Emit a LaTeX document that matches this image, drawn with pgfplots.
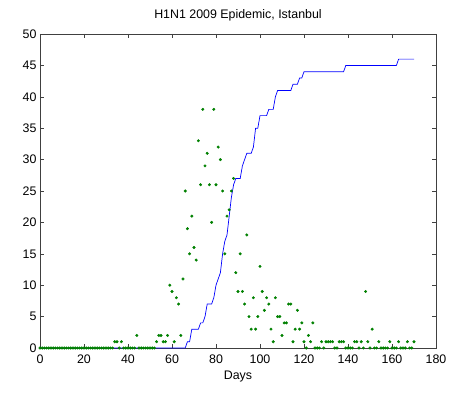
\documentclass[border=0pt]{standalone}
\usepackage{pgfplots}
\pgfplotsset{compat=1.18}
\usepackage{pgfplotstable}
\usepackage{fontspec}
\setmainfont{Liberation Sans}

\definecolor{mblue}{rgb}{0,0,1}
\definecolor{mgreen}{rgb}{0,0.5,0}

% daily counts (green dots)
\pgfplotstableread[row sep=\\]{
day n \\
0 0 \\ 1 0 \\ 2 0 \\ 3 0 \\ 4 0 \\ 5 0 \\ 6 0 \\ 7 0 \\ 8 0 \\ 9 0 \\
10 0 \\ 11 0 \\ 12 0 \\ 13 0 \\ 14 0 \\ 15 0 \\ 16 0 \\ 17 0 \\ 18 0 \\ 19 0 \\
20 0 \\ 21 0 \\ 22 0 \\ 23 0 \\ 24 0 \\ 25 0 \\ 26 0 \\ 27 0 \\ 28 0 \\ 29 0 \\
30 0 \\ 31 0 \\ 32 0 \\ 33 0 \\ 34 1 \\ 35 1 \\ 36 0 \\ 37 1 \\ 38 0 \\ 39 0 \\
40 0 \\ 41 0 \\ 42 0 \\ 43 0 \\ 44 2 \\ 45 0 \\ 46 0 \\ 47 0 \\ 48 0 \\ 49 0 \\
50 0 \\ 51 0 \\ 52 0 \\ 53 1 \\ 54 2 \\ 55 2 \\ 56 1 \\ 57 1 \\ 58 2 \\ 59 10 \\
60 9 \\ 61 1 \\ 62 8 \\ 63 7 \\ 64 2 \\ 65 11 \\ 66 25 \\ 67 19 \\ 68 15 \\ 69 21 \\
70 16 \\ 71 14 \\ 72 33 \\ 73 26 \\ 74 38 \\ 75 29 \\ 76 31 \\ 77 26 \\ 78 20 \\ 79 38 \\
80 26 \\ 81 32 \\ 82 30 \\ 83 25 \\ 84 15 \\ 85 21 \\ 86 22 \\ 87 25 \\ 88 27 \\ 89 12 \\
90 9 \\ 91 15 \\ 92 9 \\ 93 7 \\ 94 18 \\ 95 5 \\ 96 3 \\ 97 8 \\ 98 3 \\ 99 5 \\
100 13 \\ 101 9 \\ 102 6 \\ 103 8 \\ 104 7 \\ 105 3 \\ 106 1 \\ 107 8 \\ 108 5 \\ 109 5 \\
110 2 \\ 111 4 \\ 112 4 \\ 113 7 \\ 114 7 \\ 115 1 \\ 116 3 \\ 117 6 \\ 118 3 \\ 119 4 \\
120 1 \\ 121 0 \\ 122 2 \\ 123 1 \\ 124 4 \\ 125 0 \\ 126 0 \\ 127 0 \\ 128 1 \\ 129 0 \\
130 1 \\ 131 1 \\ 132 1 \\ 133 1 \\ 134 0 \\ 135 0 \\ 136 1 \\ 137 1 \\ 138 1 \\ 139 0 \\
140 0 \\ 141 0 \\ 142 0 \\ 143 1 \\ 144 1 \\ 145 0 \\ 146 1 \\ 147 0 \\ 148 9 \\ 149 1 \\
150 0 \\ 151 3 \\ 152 0 \\ 153 0 \\ 154 1 \\ 155 0 \\ 156 0 \\ 157 0 \\ 158 0 \\ 159 1 \\
160 0 \\ 161 0 \\ 162 0 \\ 163 1 \\ 164 0 \\ 165 0 \\ 166 0 \\ 167 1 \\ 168 0 \\ 169 0 \\
170 1 \\
}\daily

% cumulative (blue line)
\pgfplotstableread[row sep=\\]{
day c \\
0 0 \\ 66 0 \\ 67 1 \\ 68 1 \\ 69 3 \\ 72 3 \\ 73 4 \\ 74 4 \\ 75 5 \\ 76 7 \\
78 7 \\ 79 8 \\ 80 10 \\ 81 11 \\ 82 12 \\ 83 15 \\ 84 17 \\ 85 18 \\ 86 21 \\ 87 24 \\
88 26 \\ 89 27 \\ 91 27 \\ 92 29 \\ 93 30 \\ 94 31 \\ 96 31 \\ 97 32 \\ 98 35 \\ 99 35 \\
100 37 \\ 103 37 \\ 104 38 \\ 106 38 \\ 107 40 \\ 108 41 \\ 114 41 \\ 115 42 \\ 117 42 \\ 118 43 \\
119 43 \\ 120 44 \\ 138 44 \\ 139 45 \\ 162 45 \\ 163 46 \\ 170 46 \\
}\cumul

\begin{document}
\begin{tikzpicture}
\begin{axis}[
    scale only axis,
    width=396pt, height=314pt,
    xmin=0, xmax=180, ymin=0, ymax=50,
    xtick={0,20,...,180},
    ytick={0,5,...,50},
    tick align=inside,
    major tick length=4pt,
    xtick pos=both, ytick pos=both,
    axis line style={line width=0.8pt, black!75},
    tick style={line width=0.6pt, black!75},
    ticklabel style={font=\fontsize{12.4}{14}\selectfont},
    xticklabel style={yshift=-3pt},
    /pgf/number format/assume math mode=true,
    title={H1N1 2009 Epidemic, Istanbul},
    title style={font=\fontsize{12.4}{14}\selectfont, yshift=3pt},
    xlabel={Days},
    xlabel style={font=\fontsize{12.4}{14}\selectfont, yshift=-1pt},
    clip=false,
]
\addplot[only marks, mark=*, mark size=1.3pt, color=mgreen] table[x=day, y=n] {\daily};
\addplot[mblue, line width=0.7pt, mark=none] table[x=day, y=c] {\cumul};
\end{axis}
\path (current axis.south west) ++(-40pt,-48pt) coordinate (bl);
\path (current axis.north east) ++(21pt,34pt) coordinate (tr);
\path (bl) rectangle (tr);
\end{tikzpicture}
\end{document}
